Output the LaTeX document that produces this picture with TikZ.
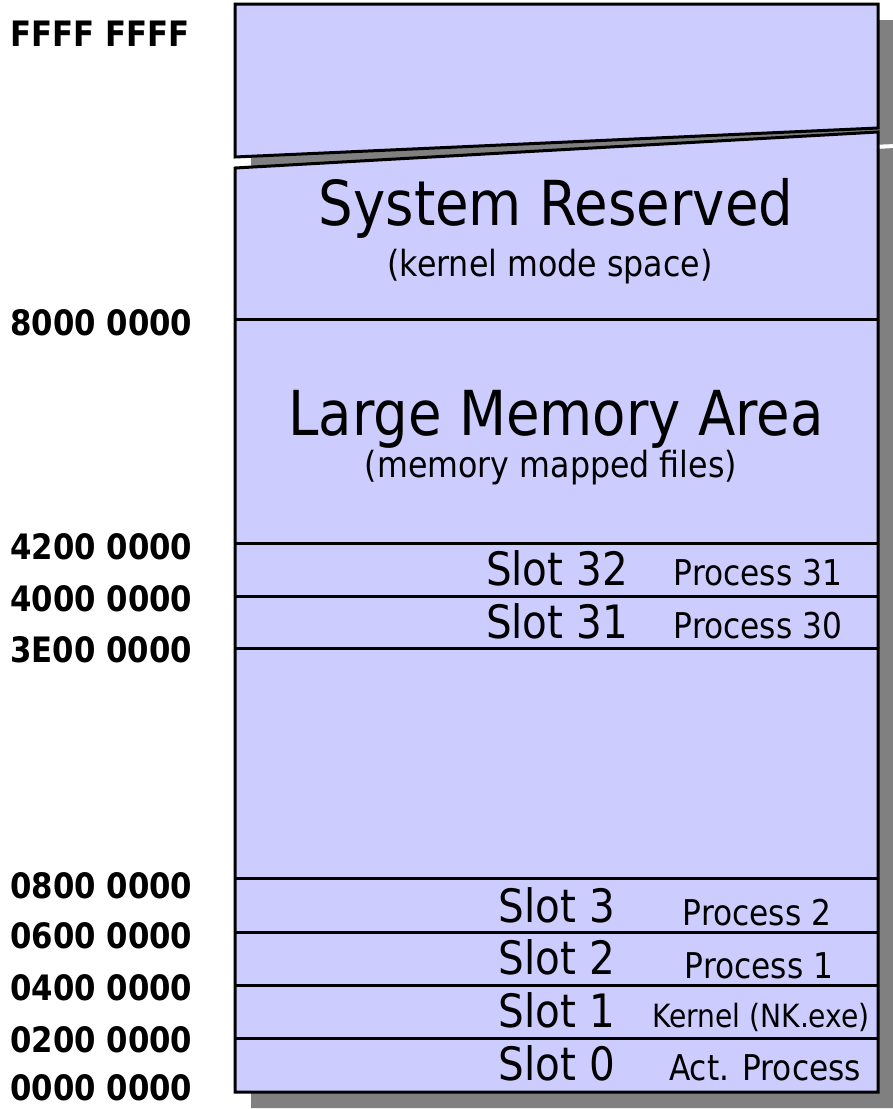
\documentclass[tikz,border=0pt]{standalone}
\usepackage{fontspec}
\setmainfont{DejaVu Sans}[FakeStretch=0.88]
\definecolor{memfill}{HTML}{CCCCFF}
\definecolor{shadowgray}{HTML}{808080}
\tikzset{
  memblock/.style={fill=memfill, draw=black, line width=3pt, line join=miter},
  shadowblock/.style={fill=shadowgray, draw=none},
  divider/.style={draw=black, line width=3pt},
  addr/.style={anchor=base west, font=\bfseries\fontsize{35}{40}\selectfont, inner sep=0pt},
  areatitle/.style={anchor=base, font=\fontsize{62}{70}\selectfont, inner sep=0pt},
  areasub/.style={anchor=base, font=\fontsize{36}{40}\selectfont, inner sep=0pt},
  slotlbl/.style={anchor=base, font=\fontsize{46}{50}\selectfont, inner sep=0pt},
  proclbl/.style={anchor=base, font=\fontsize{35.5}{40}\selectfont, inner sep=0pt},
}
\begin{document}
\begin{tikzpicture}[x=1pt, y=-1pt]
\useasboundingbox (0,0) rectangle (893,1109);
% corner coordinates
\coordinate (tTL) at (235,4);
\coordinate (tTR) at (878,4);
\coordinate (tBR) at (878,128);
\coordinate (tBL) at (235,157);
\coordinate (bTL) at (235,168);
\coordinate (bTR) at (878,132);
\coordinate (bBR) at (878,1092);
\coordinate (bBL) at (235,1092);
% shadows
\fill[shadowblock] ([shift={(16,16)}]bTL) -- ([shift={(16,16)}]bTR) -- ([shift={(16,16)}]bBR) -- ([shift={(16,16)}]bBL) -- cycle;
\fill[shadowblock] ([shift={(16,16)}]tTL) -- ([shift={(16,16)}]tTR) -- ([shift={(16,16)}]tBR) -- ([shift={(16,16)}]tBL) -- cycle;
% blocks
\draw[memblock] (bTL) -- (bTR) -- (bBR) -- (bBL) -- cycle;
\draw[memblock] (tTL) -- (tTR) -- (tBR) -- (tBL) -- cycle;
% dividers
\foreach \yy in {319,543,596,648,878,932,985,1038}
  \draw[divider] (235,\yy) -- (878,\yy);
% address labels
\node[addr] (aF) at (10,46) {FFFF FFFF};
\node[addr] (a8) at (10,335) {8000 0000};
\node[addr] (a42) at (10,559) {4200 0000};
\node[addr] (a40) at (10,611) {4000 0000};
\node[addr] (a3E) at (10,662) {3E00 0000};
\node[addr] (a08) at (10,898) {0800 0000};
\node[addr] (a06) at (10,948) {0600 0000};
\node[addr] (a04) at (10,1000) {0400 0000};
\node[addr] (a02) at (10,1052) {0200 0000};
\node[addr] (a00) at (10,1100) {0000 0000};
% area titles
\node[areatitle] (sysres) at (556,225) {System Reserved};
\node[areasub] (kms) at (550,276) {(kernel mode space)};
\node[areatitle] (lma) at (556,435) {Large Memory Area};
\node[areasub] (mmf) at (551,477) {(memory mapped files)};
% slots
\node[slotlbl] (s32) at (557,585) {Slot 32};
\node[proclbl] (p31) at (758,585) {Process 31};
\node[slotlbl] (s31) at (557,638) {Slot 31};
\node[proclbl] (p30) at (758,638) {Process 30};
\node[slotlbl] (s3) at (557,922) {Slot 3};
\node[proclbl] (p2) at (757,925) {Process 2};
\node[slotlbl] (s2) at (557,974) {Slot 2};
\node[proclbl] (p1) at (759,978) {Process 1};
\node[slotlbl] (s1) at (557,1027) {Slot 1};
\node[proclbl, font=\fontsize{32}{36}\selectfont] (pk) at (761,1027) {Kernel (NK.exe)};
\node[slotlbl] (s0) at (557,1080) {Slot 0};
\node[proclbl] (pa) at (765,1080) {Act. Process};
\end{tikzpicture}
\end{document}
